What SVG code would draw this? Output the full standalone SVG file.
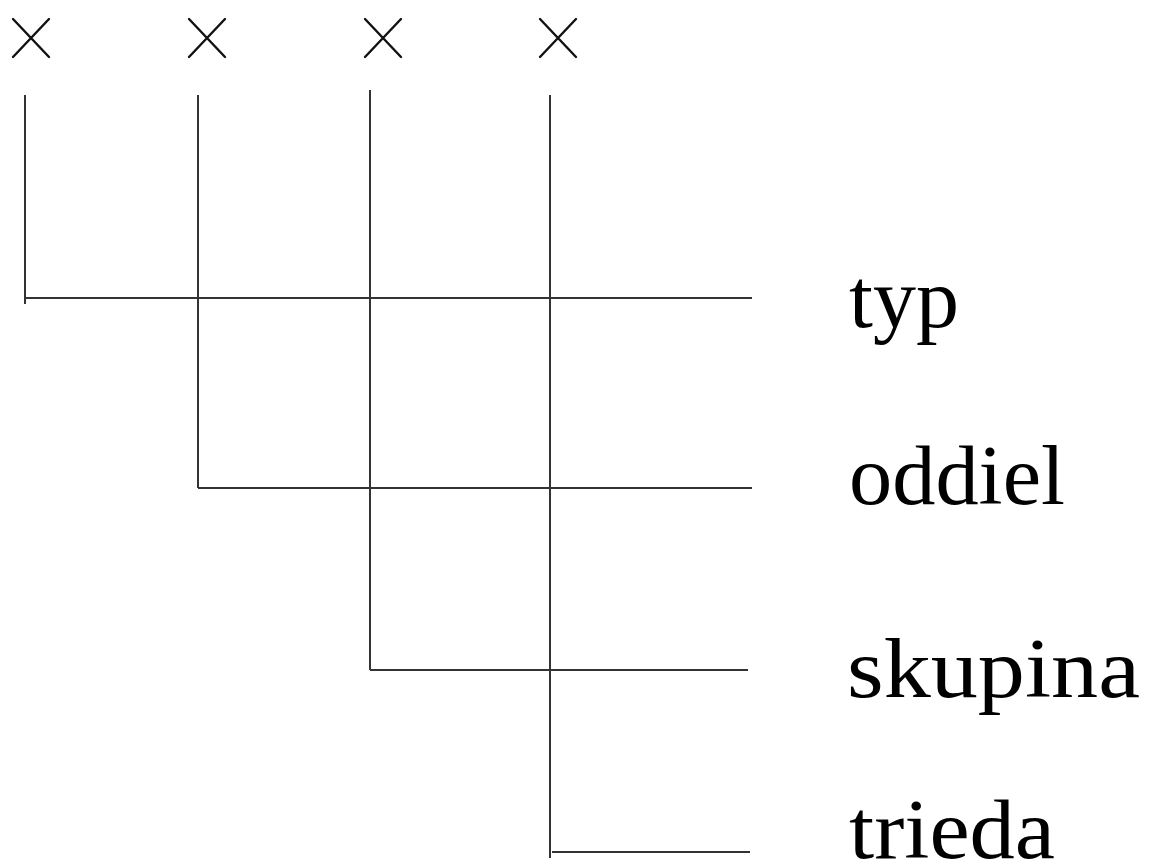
<svg xmlns="http://www.w3.org/2000/svg" width="1149" height="863" viewBox="0 0 1149 863">
<style>
.ln{stroke:#333;stroke-width:2;fill:none}
.x{stroke:#111;stroke-width:2.4;fill:none;stroke-linecap:round}
.lbl{font-family:"Liberation Serif","Times New Roman",serif;font-size:84px;fill:#000}
</style>
<rect width="1149" height="863" fill="#fff"/>
<g id="connectors">
<path class="ln" d="M25 95V304M25 298H752"/>
<path class="ln" d="M198 95V488M198 488H752"/>
<path class="ln" d="M370 90V670M370 670H748"/>
<path class="ln" d="M550 95V858M552 852H750"/>
</g>
<g id="marks">
<path class="x" d="M13 19L49 57M49 19L13 57"/>
<path class="x" d="M189 19L225 57M225 19L189 57"/>
<path class="x" d="M365 19L401 57M401 19L365 57"/>
<path class="x" d="M540 19L576 57M576 19L540 57"/>
</g>
<g id="n-typ"><text class="lbl" x="849" y="327" textLength="110" lengthAdjust="spacingAndGlyphs">typ</text></g>
<g id="n-oddiel"><text class="lbl" x="849" y="504" textLength="216" lengthAdjust="spacingAndGlyphs">oddiel</text></g>
<g id="n-skupina"><text class="lbl" x="847" y="697" textLength="293" lengthAdjust="spacingAndGlyphs">skupina</text></g>
<g id="n-trieda"><text class="lbl" x="849" y="858" textLength="206" lengthAdjust="spacingAndGlyphs">trieda</text></g>
</svg>
